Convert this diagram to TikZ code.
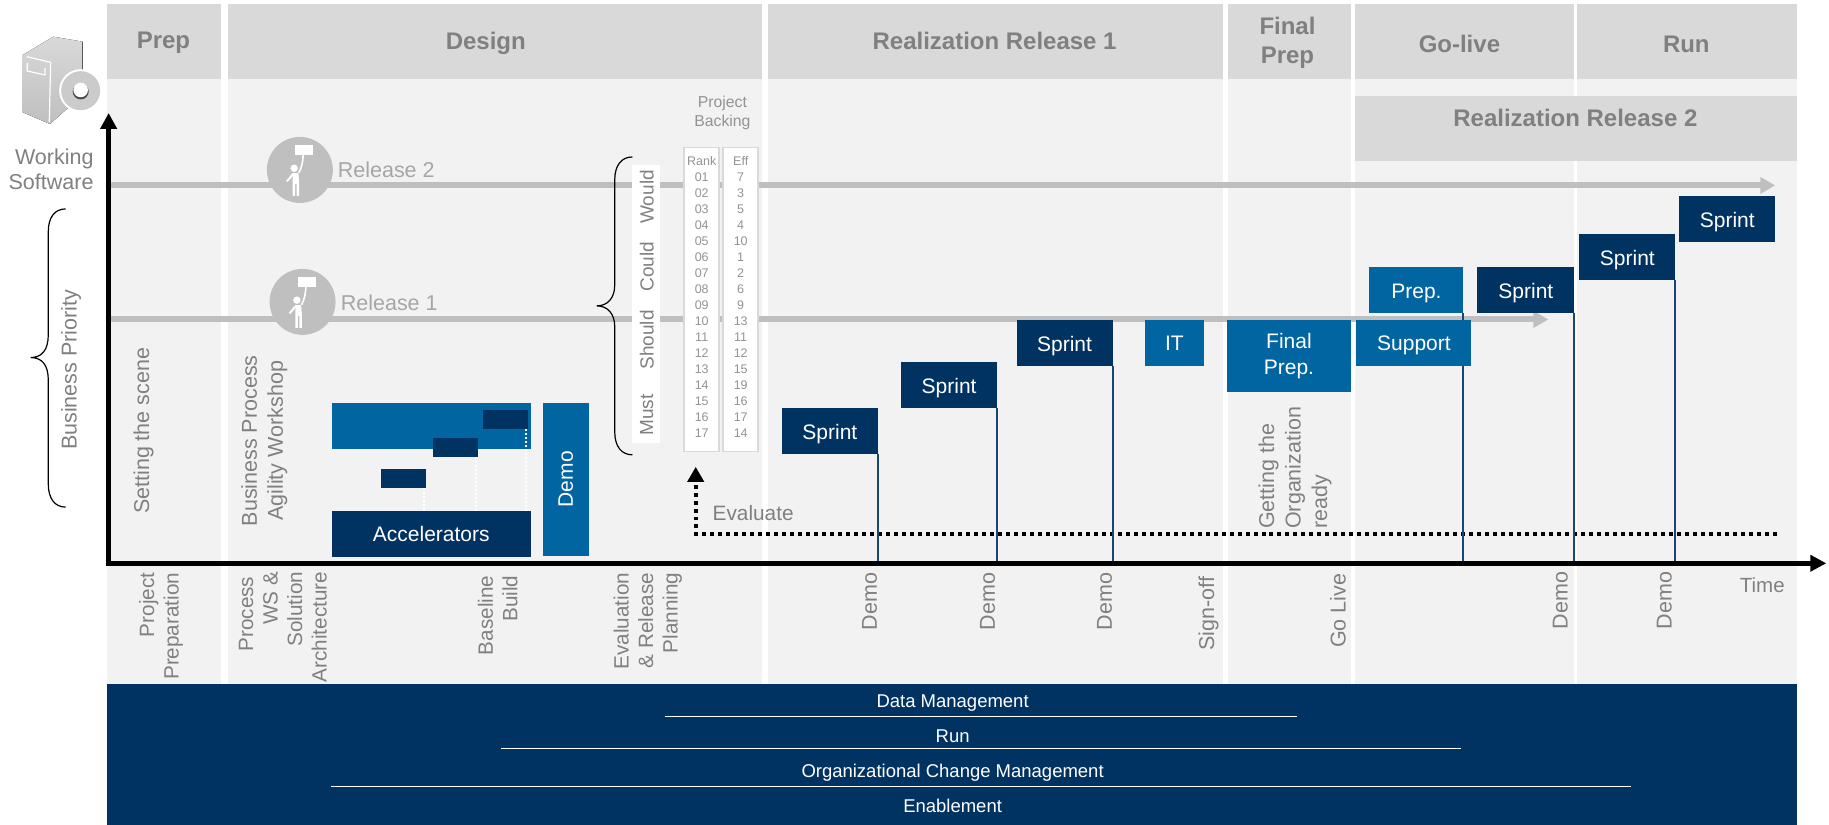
\documentclass[tikz,border=0pt]{standalone}
\usepackage{fontspec}
\setmainfont{Liberation Sans}
\usetikzlibrary{arrows.meta}
\definecolor{headgrey}{HTML}{D9D9D9}
\definecolor{panelgrey}{HTML}{F2F2F2}
\definecolor{linegrey}{HTML}{BFBFBF}
\definecolor{textgrey}{HTML}{808080}
\definecolor{softgrey}{HTML}{A6A6A6}
\definecolor{navyblue}{HTML}{003361}
\definecolor{midblue}{HTML}{0065A0}
\begin{document}
\begin{tikzpicture}
        [
            x=1pt,
            y=-1pt,
            every node/.style={inner sep=0pt, outer sep=0pt},
            label/.style={text=textgrey, font=\fontsize{21.5}{25}\selectfont},
            vlabel/.style={label, rotate=90},
            ticklabel/.style={vlabel, align=right, anchor=east, font=\fontsize{20.7}{24.5}\selectfont},
            headlabel/.style={text=textgrey, font=\bfseries\fontsize{24}{29}\selectfont, align=center},
            box/.style={text=white, font=\fontsize{21}{26}\selectfont, align=center, minimum height=46pt},
            oneline/.style={text height=17pt, text depth=0pt},
            sprintbox/.style={box, oneline, fill=navyblue, minimum width=96pt},
            bluebox/.style={box, fill=midblue},
            smallbar/.style={fill=navyblue, minimum width=45pt, minimum height=19pt},
            release/.style={line width=6pt, draw=linegrey, -{Triangle[length=15pt, width=16pt]}},
            stem/.style={line width=2pt, draw=navyblue!90!white},
            whitedots/.style={line width=1.8pt, draw=white, dash pattern=on 2pt off 2pt},
            curly/.style={line width=1.2pt, draw=black},
            bandline/.style={line width=1.2pt, draw=white},
            bandtext/.style={text=white, font=\fontsize{18.5}{22}\selectfont, text height=13.5pt, text depth=0pt},
            ranktext/.style={text=textgrey!85!white, font=\fontsize{12.5}{15}\selectfont},
            moscowtext/.style={vlabel, font=\fontsize{19}{22}\selectfont},
            column/.style={draw=headgrey, fill=white, line width=1.5pt, minimum width=35pt, minimum height=304pt},
            placard/.pic={
                \fill[white] (-5,-25) rectangle (13.3,-15);
                \draw[white, line width=1.6pt] (3.3,-15) .. controls (3,-8) and (2,-3) .. (-1,3);
                \fill[white] (-5.7,-1.7) circle (3.7);
                \fill[white] (-7.3,3.3) -- (-1.5,3.3) -- (-0.7,12) -- (-0.7,26) -- (-3.2,26) -- (-3.2,14)
                    -- (-4.8,14) -- (-4.8,26) -- (-7.3,26) -- cycle;
                \draw[white, line width=2pt] (-6.5,3.8) -- (-13,11.5);
            }
        ]
        % columns and headers
        \foreach \xa/\xb in {107/221, 228/762, 768/1223, 1228/1352, 1356/1575, 1578/1798} {
            \fill[panelgrey] (\xa,79) rectangle (\xb,684);
            \fill[headgrey] (\xa,4) rectangle (\xb,79);
        }
        \fill[headgrey] (1356,96) rectangle (1798,161);
        \node[headlabel] (prep) at (163.5,43) {Prep};
        \node[headlabel] (design) at (486,43) {Design};
        \node[headlabel] (real1) at (995,41) {Realization Release 1};
        \node[headlabel] (finalhead) at (1288,43) {Final\\Prep};
        \node[headlabel] (golive) at (1460,44) {Go-live};
        \node[headlabel] (run) at (1687,44) {Run};
        \node[headlabel] (real2) at (1576,118) {Realization Release 2};

        % server
        \fill[top color=headgrey, bottom color=linegrey] (53.3,36.7) -- (82.7,41.7) -- (82.7,95) -- (50,124)
            -- (22.7,112.3) -- (22.7,55) -- cycle;
        \draw[white, line width=1.2pt] (26.7,56.7) -- (50.7,62.3) -- (49.3,122.3);
        \draw[white, line width=1.2pt] (27.3,63) -- (27.3,71) -- (45,75) -- (45,68);
        \fill[white] (80.7,90.7) circle (21.5);
        \fill[headgrey!85!gray] (80.7,90.7) circle (19.5);
        \fill[black!70] (80.7,91.5) circle (8);
        \fill[white] (80.7,90) circle (7.3);
        \node[label, align=right, anchor=east] (working) at (93.5,169) {Working\\Software};

        % release lines
        \coordinate (r2start) at (111,185.5);
        \coordinate (r2end) at (1776,185.5);
        \coordinate (r1start) at (111,319.6);
        \coordinate (r1end) at (1549,319.6);
        \draw[release] (r2start) -- (r2end);
        \draw[release] (r1start) -- (r1end);
        \node[circle, fill=linegrey, minimum size=66pt] (man2) at (300,170) {};
        \node[circle, fill=linegrey, minimum size=66pt] (man1) at (302.7,302) {};
        \pic at (man2) {placard};
        \pic at (man1) {placard};
        \node[label, text=softgrey, anchor=west] (rel2) at (338,170) {Release 2};
        \node[label, text=softgrey, anchor=west] (rel1) at (341,302.5) {Release 1};

        % backlog
        \draw[curly] (632.7,157) .. controls (622,157) and (615,165) .. (615,180) -- (615,285)
            .. controls (615,298) and (608,306) .. (597,306) .. controls (608,306) and (615,314) .. (615,327)
            -- (615,432) .. controls (615,447) and (622,455) .. (632.7,455);
        \node[fill=white, minimum width=28pt, minimum height=278pt] (moscow) at (646,304) {};
        \node[moscowtext] (would) at (647,197) {Would};
        \node[moscowtext] (could) at (647,267) {Could};
        \node[moscowtext] (should) at (647,340) {Should};
        \node[moscowtext] (must) at (647,415) {Must};
        \node[column] (rankcol) at (702,299.5) {};
        \node[column] (effcol) at (741,299.5) {};
        \node[ranktext, font=\fontsize{15.8}{19}\selectfont, align=center] (backing) at (722.7,113) {Project\\Backing};
        \node[ranktext] (rankhead) at (702,161.3) {Rank};
        \node[ranktext] (effhead) at (741,161.3) {Eff};
        \foreach \rk/\ef [count=\i from 0] in {01/7, 02/3, 03/5, 04/4, 05/10, 06/1, 07/2, 08/6, 09/9, 10/13, 11/11, 12/12, 13/15, 14/19, 15/16, 16/17, 17/14} {
            \node[ranktext] (rank\rk) at (702,{177.7+16*\i}) {\rk};
            \node[ranktext] (eff\rk) at (741,{177.7+16*\i}) {\ef};
        }

        % baseline build
        \node[fill=midblue, minimum width=199pt, minimum height=46pt] (baseline) at (431.5,426) {};
        \node[box, fill=navyblue, minimum width=199pt] (accel) at (431.5,534) {Accelerators};
        \node[smallbar] (bar3) at (505.5,419.5) {};
        \node[smallbar] (bar2) at (455.5,447.5) {};
        \node[smallbar] (bar1) at (403.5,478.5) {};
        \draw[whitedots] (bar1.south east) ++(-1.5,0) -- ++(0,23);
        \draw[whitedots] (bar2.south east) ++(-2,0) -- ++(0,54);
        \draw[whitedots] (bar3.south east) ++(-1.7,0) -- ++(0,82);
        \node[bluebox, minimum width=46pt, minimum height=153pt] (demobox) at (566,479.5) {};
        \node[text=white, rotate=90, font=\fontsize{21}{26}\selectfont] (demotext) at (566,479.5) {Demo};

        % sprints
        \node[sprintbox] (sprint1) at (830.2,431) {Sprint};
        \node[sprintbox] (sprint2) at (949.5,385.5) {Sprint};
        \node[sprintbox] (sprint3) at (1065,343) {Sprint};
        \node[bluebox, minimum width=58.5pt] (itbox) at (1174.8,343) {IT};
        \node[bluebox, minimum width=125pt, minimum height=72pt] (finalprep) at (1289.5,356) {Final\\Prep.};
        \node[bluebox, text height=15.5pt, text depth=0pt, minimum width=115pt] (support) at (1414.5,343) {Support};
        \node[bluebox, oneline, minimum width=94pt] (prepbox) at (1417,290) {Prep.};
        \node[sprintbox, minimum width=97pt] (sprint4) at (1526.5,290.5) {Sprint};
        \node[sprintbox] (sprint5) at (1628,257) {Sprint};
        \node[sprintbox] (sprint6) at (1728,219) {Sprint};

        % axes
        \coordinate (origin) at (108.7,563.5);
        \coordinate (ytip) at (108.7,113);
        \coordinate (xtip) at (1827,563.5);

        % evaluate
        \coordinate (evalend) at (1778,534.7);
        \coordinate (evalcorner) at (696,534.7);
        \coordinate (evaltip) at (696,467);
        \draw[line width=4pt, dash pattern=on 4pt off 4pt, -{Triangle[length=15pt, width=16pt]}] (evalend) -- (evalcorner) -- (evaltip);
        \node[label, anchor=west, font=\fontsize{20.8}{25}\selectfont] (evaluate) at (713,513) {Evaluate};

        \path[stem]
        (sprint1.south east) edge (sprint1.south east |- origin)
        (sprint2.south east) edge (sprint2.south east |- origin)
        (sprint3.south east) edge (sprint3.south east |- origin)
        (prepbox.south east) edge (prepbox.south east |- support.north)
        (support.south east -| prepbox.east) edge (prepbox.east |- origin)
        (sprint4.south east) edge (sprint4.south east |- origin)
        (sprint5.south east) edge (sprint5.south east |- origin);

        \draw[line width=5.5pt, {Triangle[length=16pt, width=16pt]}-{Triangle[length=16pt, width=16pt]}] (ytip) -- (origin) -- (xtip);
        \node[label, anchor=base, font=\fontsize{20.5}{25}\selectfont] (time) at (1763,593) {Time};

        % business priority
        \draw[curly] (65.7,209) .. controls (55,209) and (48.3,217) .. (48.3,232) -- (48.3,335)
            .. controls (48.3,350) and (42,357.7) .. (30.7,357.7) .. controls (42,357.7) and (48.3,365) .. (48.3,380)
            -- (48.3,484) .. controls (48.3,499) and (55,507.3) .. (65.7,507.3);
        \node[vlabel] (priority) at (71,370) {Business Priority};

        % text along the phases
        \node[vlabel] (scene) at (143.5,431) {Setting the scene};
        \node[vlabel, align=center, font=\fontsize{21.5}{26}\selectfont] (workshop) at (264.5,441) {Business Process\\Agility Workshop};
        \node[vlabel, align=left, anchor=west, font=\fontsize{21.5}{26.5}\selectfont] (ready) at (1295.5,529) {Getting the\\Organization\\ready};
        \node[ticklabel] (project) at (161,573) {Project\\Preparation};
        \node[ticklabel] (process) at (283,572) {Process\hspace*{5pt}\\WS \&\\Solution\\Architecture};
        \node[ticklabel] (build) at (498,576) {Baseline\\Build};
        \node[ticklabel] (planning) at (648,573) {Evaluation\\\& Release\\Planning};
        \node[vlabel, anchor=east] (demo1) at (870,573) {Demo};
        \node[vlabel, anchor=east] (demo2) at (988,573) {Demo};
        \node[vlabel, anchor=east] (demo3) at (1105,573) {Demo};
        \node[vlabel, anchor=east] (signoff) at (1209,577) {Sign-off};
        \node[vlabel, anchor=east] (golivedate) at (1338.5,574) {Go Live};
        \node[vlabel, anchor=east] (demo4) at (1561,572) {Demo};
        \node[vlabel, anchor=east] (demo5) at (1665,572) {Demo};

        % band
        \fill[navyblue] (107,684) rectangle (1798,825);
        \coordinate (line1a) at (665,717);
        \coordinate (line1b) at (1298,717);
        \coordinate (line2a) at (501,749);
        \coordinate (line2b) at (1462,749);
        \coordinate (line3a) at (331,787);
        \coordinate (line3b) at (1632,787);
        \draw[bandline] (line1a) -- (line1b);
        \draw[bandline] (line2a) -- (line2b);
        \draw[bandline] (line3a) -- (line3b);
        \node[bandtext] (datamgmt) at (953,701.5) {Data Management};
        \node[bandtext] (runtext) at (953,736.5) {Run};
        \node[bandtext] (ocm) at (953,771.5) {Organizational Change Management};
        \node[bandtext] (enable) at (953,806.5) {Enablement};
        \useasboundingbox (0,0) rectangle (1829,825);
    \end{tikzpicture}
\end{document}
